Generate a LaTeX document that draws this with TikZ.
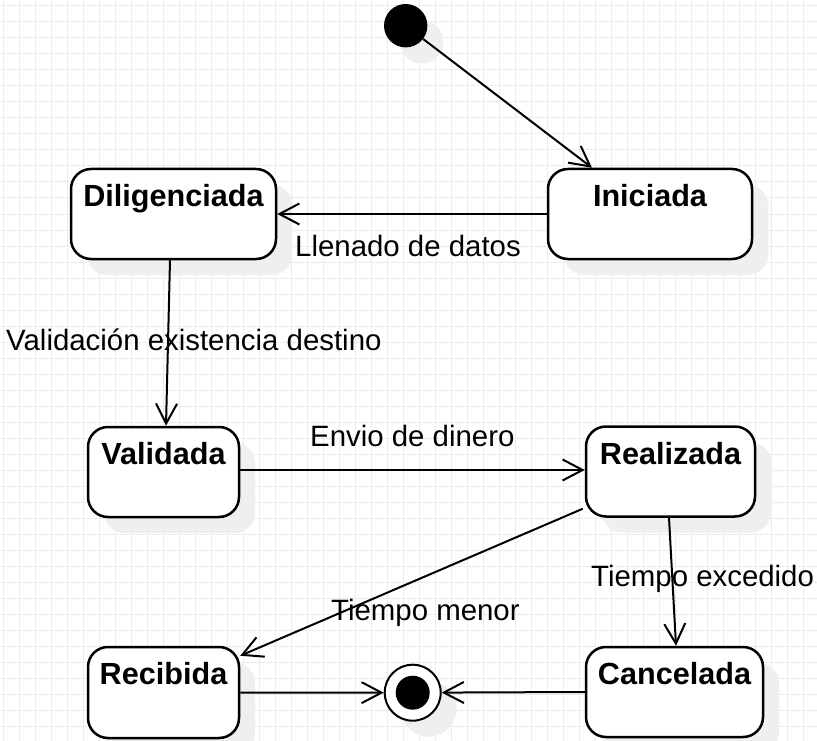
\documentclass[tikz,border=0pt]{standalone}
\usepackage{fontspec}
\setmainfont{Liberation Sans}
\usetikzlibrary{arrows.meta,shadows}
\definecolor{gridc}{RGB}{236,236,236}
\definecolor{shadowc}{RGB}{239,239,239}
\begin{document}
\begin{tikzpicture}[x=1pt,y=-1pt,
  shad/.style={general shadow={fill=shadowc, shadow xshift=16pt, shadow yshift=-16pt}},
  state/.style={draw, line width=2.5pt, rounded corners=20pt, fill=white, inner sep=0pt, minimum height=90pt, shad},
  stxt/.style={anchor=base, inner sep=0pt, font=\fontsize{30.6pt}{36pt}\selectfont\bfseries},
  lbl/.style={anchor=base west, inner sep=0pt, font=\fontsize{29.4pt}{36pt}\selectfont},
  conn/.style={draw, line width=2pt, -{Straight Barb[length=20pt, width=21pt]}}
]
\fill[white] (0,0) rectangle (817,741);
\useasboundingbox (0,0) rectangle (817,741);
\foreach \x in {3.5,19.5,...,816} \draw[gridc, line width=1pt] (\x,0) -- (\x,741);
\foreach \y in {6,22,...,741} \draw[gridc, line width=1pt] (0,\y) -- (817,\y);

% states
\node (ini) [state, minimum width=204pt] at (650,214) {};
\node (dil) [state, minimum width=205pt] at (173.5,214) {};
\node (val) [state, minimum width=151pt] at (163.5,472) {};
\node (real) [state, minimum width=169pt] at (670.5,471.5) {};
\node (rec) [state, minimum width=151pt, minimum height=91pt] at (163.5,692.5) {};
\node (canc) [state, minimum width=177pt] at (674.5,692) {};

\node (tini) [stxt] at ([yshift=-39pt]ini.north) {Iniciada};
\node (tdil) [stxt] at ([yshift=-39pt]dil.north) {Diligenciada};
\node (tval) [stxt] at ([yshift=-39pt]val.north) {Validada};
\node (treal) [stxt] at ([yshift=-39pt]real.north) {Realizada};
\node (trec) [stxt] at ([yshift=-39pt]rec.north) {Recibida};
\node (tcanc) [stxt] at ([yshift=-39pt]canc.north) {Cancelada};

% initial and final states
\node (init) [circle, fill=black, minimum size=43.4pt, inner sep=0pt, shad] at (405.7,25.7) {};
\node (fin) [circle, draw, line width=2pt, fill=white, minimum size=56pt, inner sep=0pt, shad] at (412.7,692.7) {};
\node (finin) [circle, fill=black, minimum size=34pt, inner sep=0pt] at (fin) {};

% transitions
\draw[conn] (init) -- ([xshift=-58pt]ini.north);
\draw[conn] (ini.west) -- (dil.east);
\draw[conn] ([xshift=-3.5pt]dil.south) -- ([xshift=2.5pt]val.north);
\draw[conn] ([yshift=2pt]val.east) -- ([yshift=1.5pt]real.west);
\draw[conn] ([xshift=-2pt,yshift=9pt]real.south west) -- ([yshift=-10pt]rec.north east);
\draw[conn] ([xshift=-1.5pt]real.south) -- ([xshift=1.5pt]canc.north);
\draw[conn] (rec.east) -- (fin);
\draw[conn] (canc.west) -- (fin);

% labels
\node (l1) [lbl] at (295,256) {Llenado de datos};
\node (l2) [lbl] at (6,350) {Validación existencia destino};
\node (l3) [lbl] at (310,446) {Envio de dinero};
\node (l4) [lbl] at (331,620) {Tiempo menor};
\node (l5) [lbl] at (591,586) {Tiempo excedido};
\end{tikzpicture}
\end{document}
